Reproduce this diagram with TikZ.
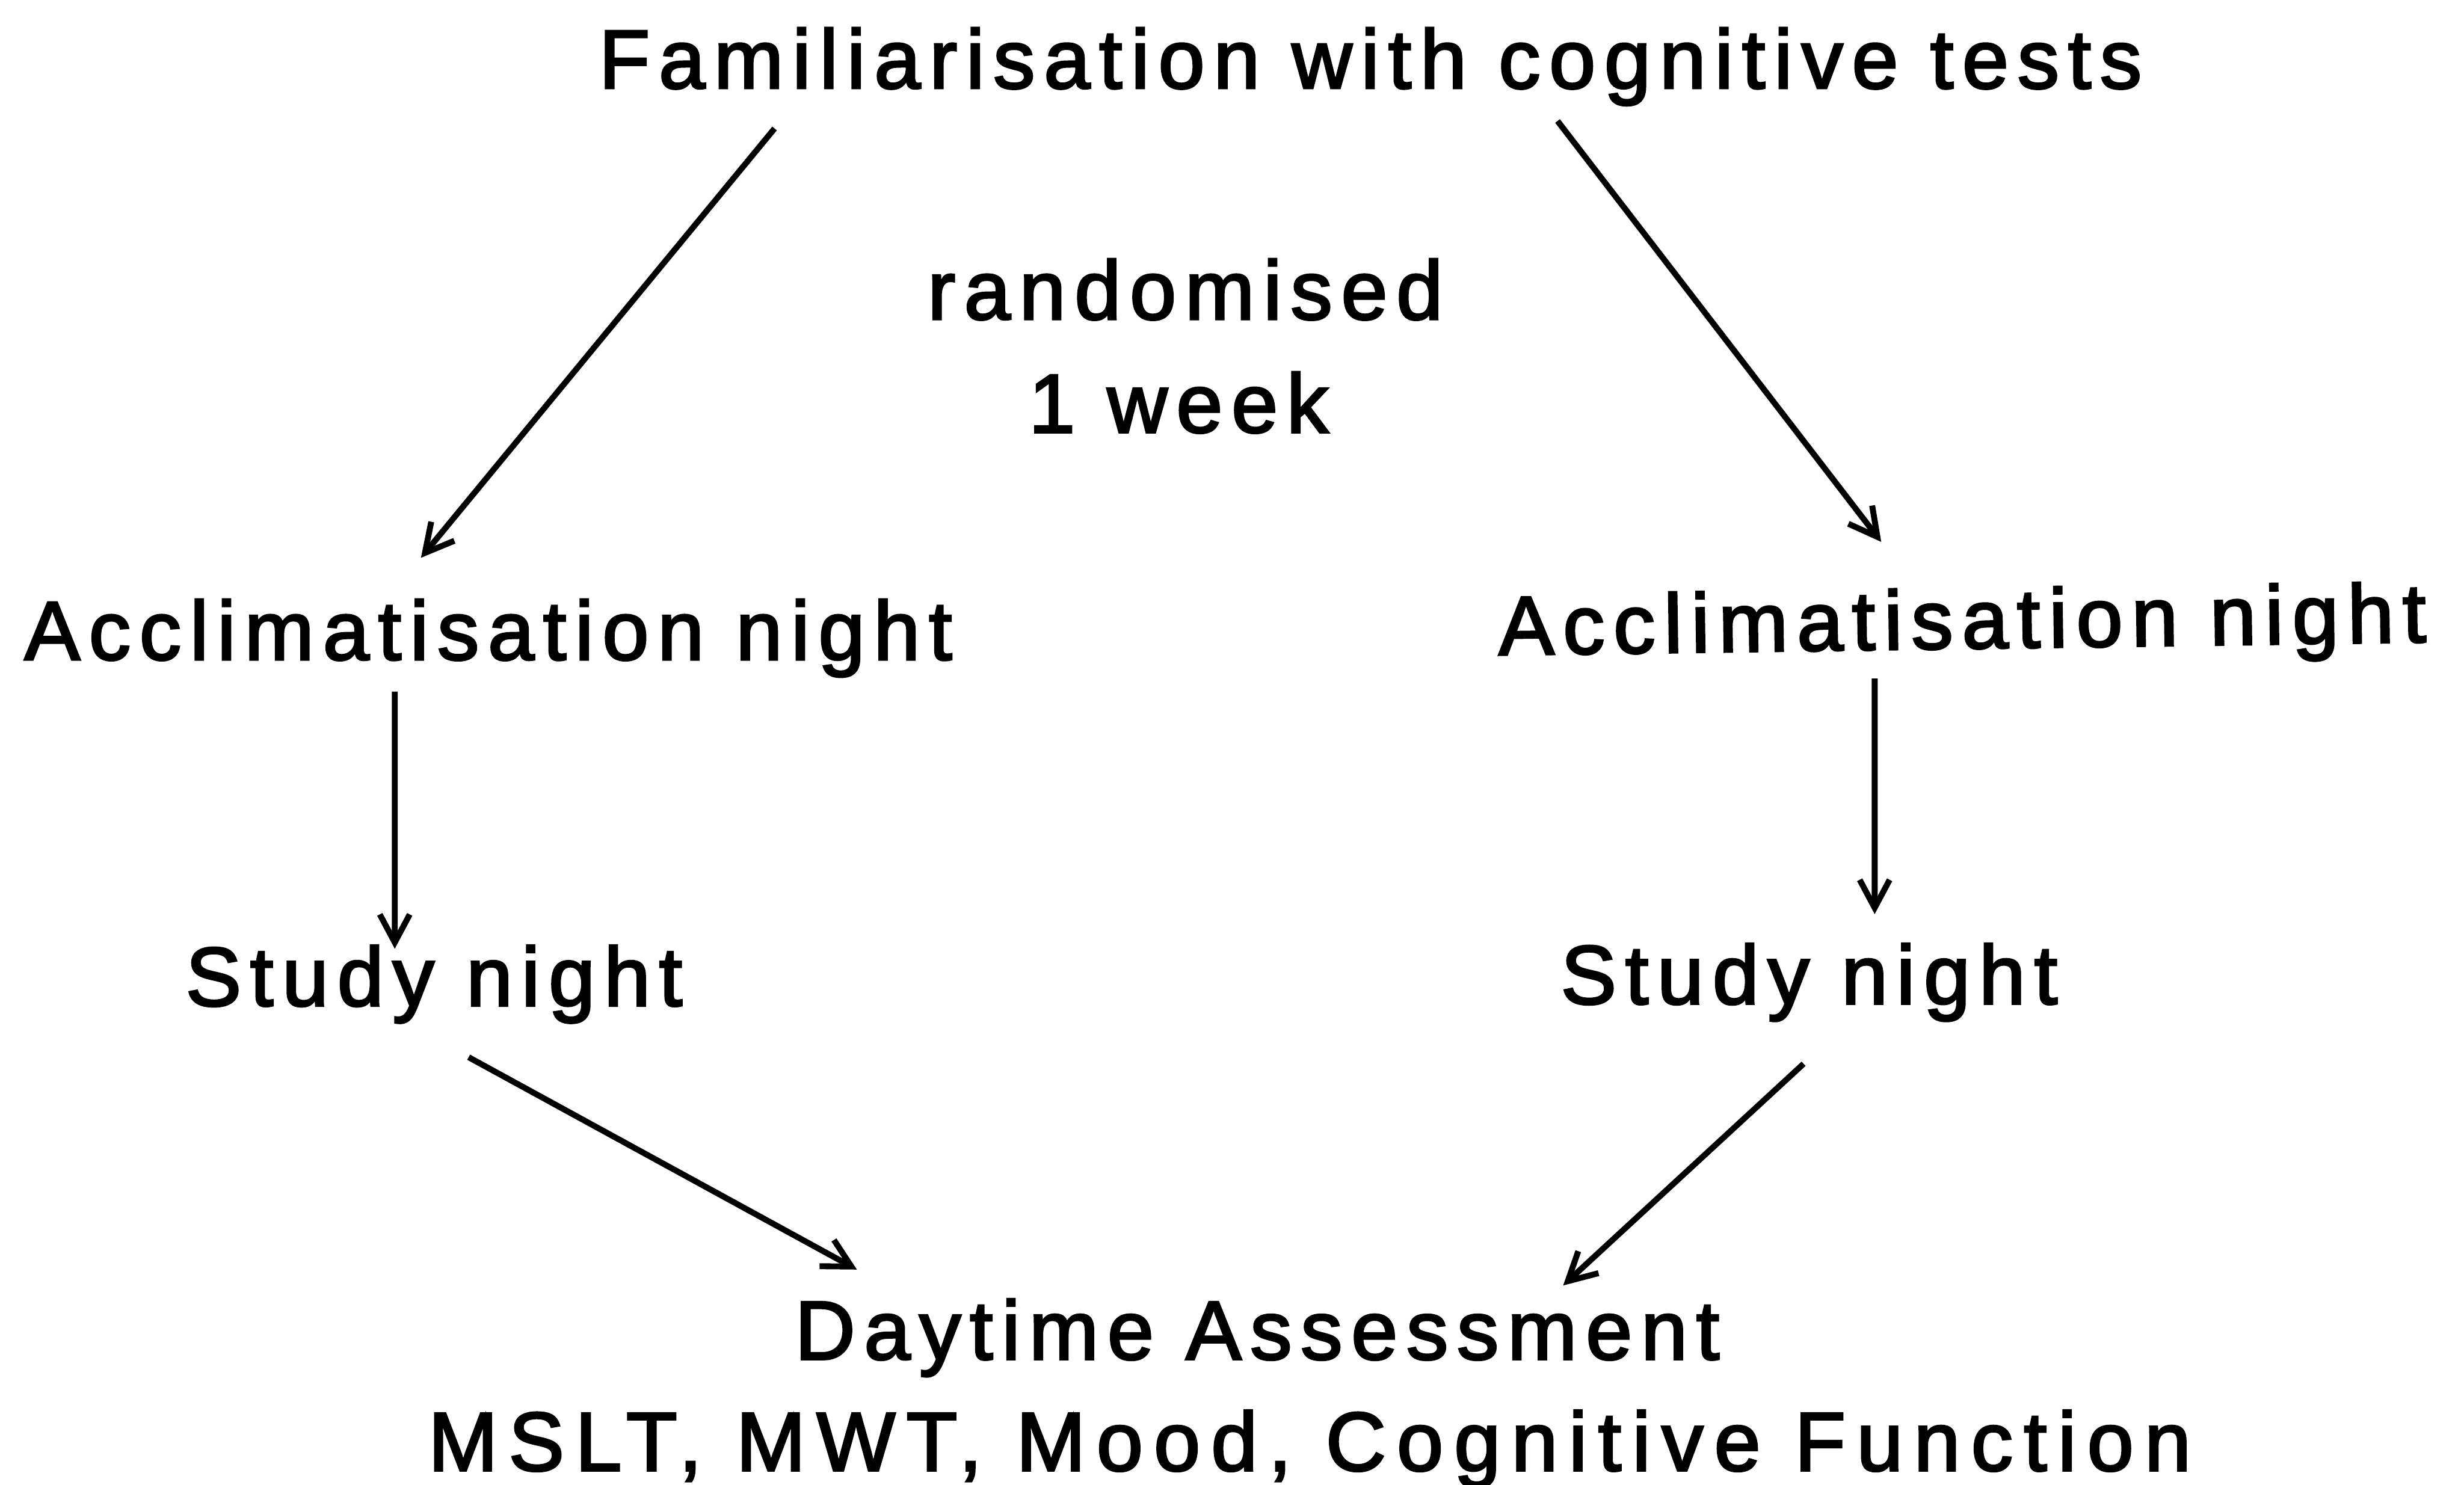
\documentclass[tikz,border=0pt]{standalone}
\usepackage{fontspec}
\setmainfont[FakeBold=2.5]{Liberation Sans}
\usepackage{tikz}
\usetikzlibrary{arrows.meta}

\begin{document}
\begin{tikzpicture}[
    >={Straight Barb[length=3mm, width=3.2mm]}, line width=1.8pt,
    stage/.style={anchor=base, inner sep=0pt,
        font=\fontsize{25.4}{30}\selectfont\addfontfeature{LetterSpace=10.5}},
    wide/.style={font=\fontsize{25.4}{30}\selectfont\addfontfeature{LetterSpace=13}},
    flow/.style={->, draw=black}
]
\useasboundingbox (0,0) rectangle (26.34,15.874);
% Nodes
\node[stage] (fam) at (14.65,14.93) {Familiarisation with cognitive tests};
\node[stage] (rand) at (12.67,12.46) {randomised};
\node[stage] (week) at (12.60,11.25) {1 week};
\node[stage] (accL) at (5.22,8.82) {Acclimatisation night};
\node[stage, rotate=0.8] (accR) at (20.98,8.94) {Acclimatisation night};
\node[stage] (studyL) at (4.64,5.12) {Study night};
\node[stage] (studyR) at (19.34,5.14) {Study night};
\node[stage] (day) at (13.44,1.34) {Daytime Assessment};
\node[stage, wide] (tests) at (14.00,0.15) {MSLT, MWT, Mood, Cognitive Function};

% Arrows
\draw[flow] ([shift={(-6.37,-0.43)}]fam.base) -- ([shift={(-0.72,1.09)}]accL.base);
\draw[flow] ([shift={(2.00,-0.35)}]fam.base) -- ([shift={(-0.87,1.14)}]accR.base);
\draw[flow] ([shift={(-1.00,-0.34)}]accL.base) -- ([shift={(-0.42,0.61)}]studyL.base);
\draw[flow] ([shift={(-0.94,-0.32)}]accR.base) -- ([shift={(0.70,0.96)}]studyR.base);
\draw[flow] ([shift={(0.37,-0.55)}]studyL.base) -- ([shift={(-4.28,0.96)}]day.base);
\draw[flow] ([shift={(-0.06,-0.64)}]studyR.base) -- ([shift={(3.27,0.79)}]day.base);

\end{tikzpicture}
\end{document}
